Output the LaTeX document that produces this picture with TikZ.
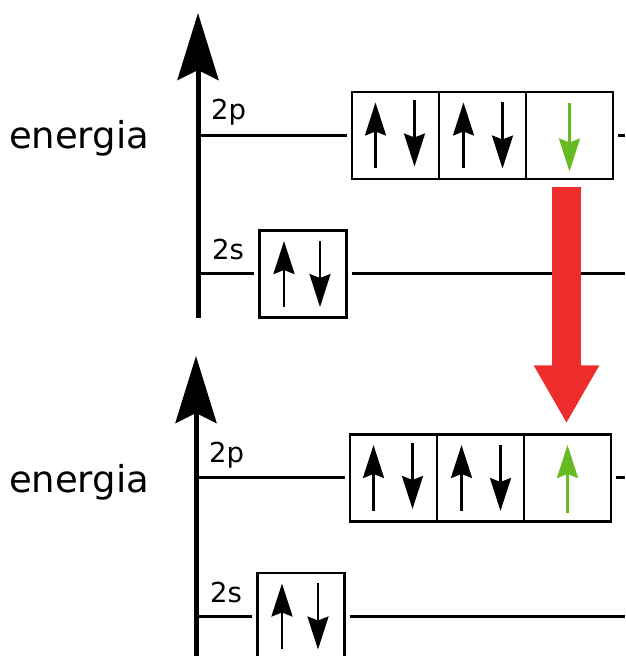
\documentclass[tikz,border=0pt]{standalone}
\usepackage{fontspec}
\setmainfont{DejaVu Sans}
\usetikzlibrary{arrows.meta,positioning,calc}
\definecolor{verde}{HTML}{66BB22}
\definecolor{rosso}{HTML}{EE2C2C}
\tikzset{
  orb/.style={rectangle, draw, line width=2.5pt, minimum width=87pt, minimum height=87pt,
              outer sep=0pt, inner sep=0pt},
  livello/.style={line width=3pt},
  asse/.style={line width=5pt, -{Stealth[length=67pt,width=41pt,inset=10pt]}},
  spin/.style={line width=2.5pt, draw=#1, -{Stealth[length=33pt,width=21pt,inset=4pt]}},
  spin/.default=black,
  salto/.style={line width=29pt, draw=rosso, -{Triangle[length=58pt,width=61pt]}},
  energ/.style={font=\fontsize{37}{40}\selectfont, inner sep=0pt},
  orbtxt/.style={font=\fontsize{27.5}{30}\selectfont, inner sep=0pt, anchor=base west},
}

\begin{document}
\begin{tikzpicture}[x=1pt, y=1pt]
  \useasboundingbox (0,0) rectangle (625,656);
  \coordinate (bordo) at (625,0);
  % stato iniziale
  \coordinate (o1) at (198,338);
  \coordinate (t1) at (198,643);
  \draw[asse] (o1) -- (t1);
  \node[energ] (en1) at (79,518) {energia};
  \node[orb] (s1) at (303,382) {};
  \node[orb] (p1a) at (395.5,520.5) {};
  \node[orb, right=0pt of p1a] (p1b) {};
  \node[orb, right=0pt of p1b] (p1c) {};
  \node[orbtxt] (l1p) at (211,536) {2p};
  \node[orbtxt] (l1s) at (212,396) {2s};
  \draw[livello] (o1 |- p1a.west) -- ([xshift=-5pt]p1a.west);
  \draw[livello] ([xshift=5pt]p1c.east) -- (bordo |- p1c.east);
  \draw[livello] (o1 |- s1.west) -- ([xshift=-6pt]s1.west);
  \draw[livello] ([xshift=5pt]s1.east) -- (bordo |- s1.east);
  \draw[spin] ([xshift=-19pt,yshift=-33pt]s1.center) -- ++(0,66);
  \draw[spin] ([xshift=17pt,yshift=33pt]s1.center) -- ++(0,-66);
  \draw[spin] ([xshift=-20pt,yshift=-33pt]p1a.center) -- ++(0,66);
  \draw[spin] ([xshift=19pt,yshift=35pt]p1a.center) -- ++(0,-66);
  \draw[spin] ([xshift=-19pt,yshift=-33pt]p1b.center) -- ++(0,66);
  \draw[spin] ([xshift=20pt,yshift=33pt]p1b.center) -- ++(0,-66);
  \draw[spin=verde] ([yshift=32pt]p1c.center) -- ++(0,-68);

  % stato finale
  \coordinate (o2) at (196,0);
  \coordinate (t2) at (196,300);
  \draw[asse] (o2) -- (t2);
  \node[energ] (en2) at (79,174) {energia};
  \node[orb] (s2) at (301,39.5) {};
  \node[orb] (p2a) at (393.5,178) {};
  \node[orb, right=0pt of p2a] (p2b) {};
  \node[orb, right=0pt of p2b] (p2c) {};
  \node[orbtxt] (l2p) at (209,193) {2p};
  \node[orbtxt] (l2s) at (210,53) {2s};
  \draw[livello] (o2 |- p2a.west) -- ([xshift=-5pt]p2a.west);
  \draw[livello] ([xshift=5pt]p2c.east) -- (bordo |- p2c.east);
  \draw[livello] (o2 |- s2.west) -- ([xshift=-6pt]s2.west);
  \draw[livello] ([xshift=5pt]s2.east) -- (bordo |- s2.east);
  \draw[spin] ([xshift=-19pt,yshift=-33pt]s2.center) -- ++(0,66);
  \draw[spin] ([xshift=17pt,yshift=33pt]s2.center) -- ++(0,-66);
  \draw[spin] ([xshift=-20pt,yshift=-33pt]p2a.center) -- ++(0,66);
  \draw[spin] ([xshift=19pt,yshift=35pt]p2a.center) -- ++(0,-66);
  \draw[spin] ([xshift=-19pt,yshift=-33pt]p2b.center) -- ++(0,66);
  \draw[spin] ([xshift=20pt,yshift=33pt]p2b.center) -- ++(0,-66);
  \draw[spin=verde] ([yshift=-35pt]p2c.center) -- ++(0,68);

  % transizione
  \draw[salto] ([xshift=-3pt,yshift=-8pt]p1c.south) -- ([xshift=-1pt,yshift=11pt]p2c.north);
\end{tikzpicture}
\end{document}
